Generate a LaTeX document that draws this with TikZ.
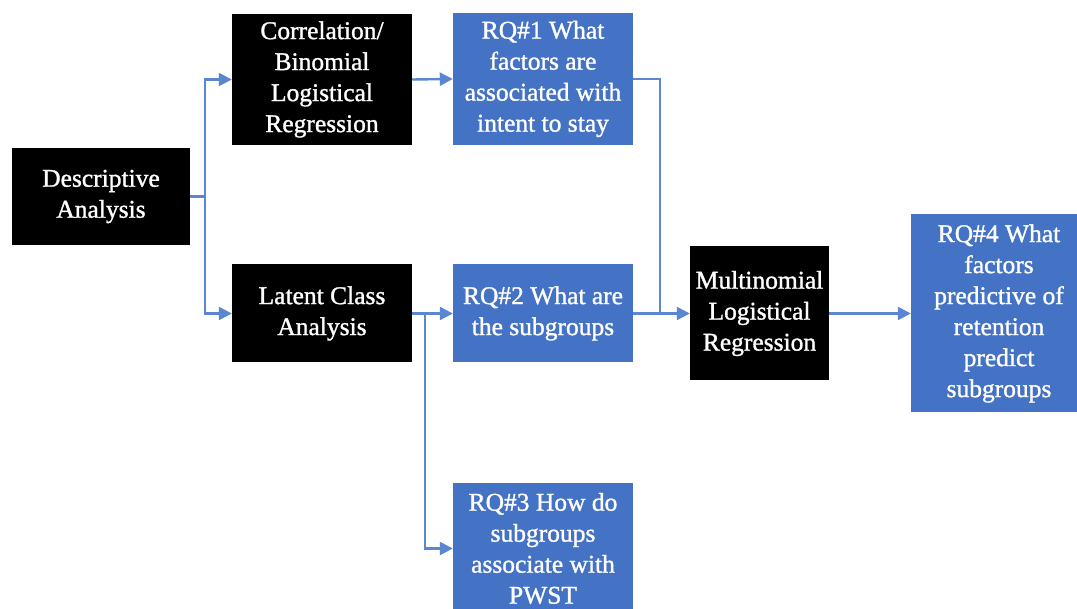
\documentclass[tikz,border=0pt]{standalone}
\usepackage{fontspec}
\setmainfont[FakeBold=1.2]{Liberation Serif}
\usetikzlibrary{arrows.meta}
\definecolor{boxblue}{HTML}{4472C4}
\definecolor{linkblue}{HTML}{5A86D2}
\begin{document}
\begin{tikzpicture}[x=1pt,y=-1pt,
  base/.style={text=white, align=center, inner sep=0pt,
    font=\fontsize{25.5}{31}\selectfont},
  method/.style={base, fill=black},
  question/.style={base, fill=boxblue},
  wire/.style={draw=linkblue, line width=2.4pt},
  link/.style={wire, -{Triangle[length=13pt,width=13pt]}}]
\useasboundingbox (0,0) rectangle (1077,609);

% analysis steps (black) and research questions (blue)
\node[method, minimum width=178pt, minimum height=97pt] (desc) at (101,196.5) {Descriptive\\Analysis};
\node[method, minimum width=180pt, minimum height=131pt] (corr) at (322,79.5) {Correlation/\\Binomial\\Logistical\\Regression};
\node[method, minimum width=180pt, minimum height=98pt] (lca) at (322,313.5) {Latent Class\\Analysis};
\node[question, minimum width=180pt, minimum height=132pt] (rq1) at (543,79) {RQ\#1 What\\factors are\\associated with\\intent to stay};
\node[question, minimum width=180pt, minimum height=98pt] (rq2) at (543,313.5) {RQ\#2 What are\\the subgroups};
\node[question, minimum width=180pt, minimum height=131pt] (rq3) at (543,548.5) {RQ\#3 How do\\subgroups\\associate with\\PWST};
\node[method, minimum width=139pt, minimum height=134pt] (mlr) at (759.5,313.5) {Multinomial\\Logistical\\Regression};
\node[question, minimum width=176pt, minimum height=198pt] (rq4) at (999,313.5) {RQ\#4 What\\factors\\predictive of\\retention\\predict\\subgroups};

% branch and merge points
\coordinate (split) at (205,196.5);
\coordinate (fork) at (425,313.5);
\coordinate (merge) at (660,313.5);

% connectors
\draw[wire] (desc.east) -- (split);
\draw[link] (split) |- (corr.west);
\draw[link] (split) |- (lca.west);
\draw[link] (corr.east) -- (rq1.west);
\draw[link] (lca.east) -- (rq2.west);
\draw[link] (fork) |- (rq3.west);
\draw[wire] (rq1.east) -| (merge);
\draw[link] (rq2.east) -- (mlr.west);
\draw[link] (mlr.east) -- (rq4.west);
\end{tikzpicture}
\end{document}
